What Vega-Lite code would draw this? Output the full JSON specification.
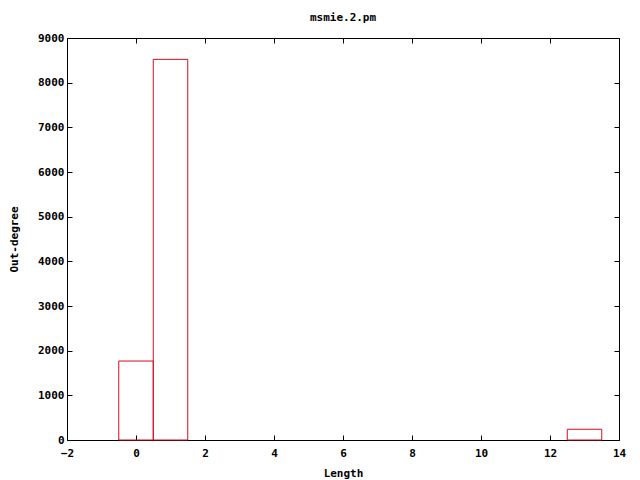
{
  "$schema": "https://vega.github.io/schema/vega-lite/v6.json",
  "width": 552,
  "height": 402,
  "autosize": {"type": "none"},
  "padding": {"left": 67, "top": 38, "right": 21, "bottom": 40},
  "background": "white",
  "title": {"text": "msmie.2.pm", "font": "DejaVu Sans Mono", "fontSize": 11, "fontWeight": "bold", "color": "black", "offset": 9, "anchor": "middle"},
  "config": {
    "view": {"stroke": "black", "strokeWidth": 1},
    "axis": {"grid": false, "domain": false, "tickColor": "black", "tickSize": -5, "labelFont": "DejaVu Sans Mono", "labelFontSize": 11, "labelFontWeight": "bold", "labelColor": "black", "titleFont": "DejaVu Sans Mono", "titleFontSize": 11, "titleFontWeight": "bold", "titleColor": "black"}
  },
  "data": {"values": [
    {"Length": 0, "lo": -0.5, "hi": 0.5, "count": 1768},
    {"Length": 1, "lo": 0.5, "hi": 1.5, "count": 8522},
    {"Length": 13, "lo": 12.5, "hi": 13.5, "count": 240}
  ]},
  "resolve": {"axis": {"x": "independent", "y": "independent"}},
  "layer": [
    {
      "mark": {"type": "rect", "fill": null, "fillOpacity": 0, "stroke": "#d01020", "strokeWidth": 1},
      "encoding": {
        "x": {"field": "lo", "type": "quantitative", "scale": {"domain": [-2, 14], "nice": false, "zero": false}, "axis": {"title": "Length", "values": [-2,0,2,4,6,8,10,12,14], "labelPadding": 12, "titlePadding": 9, "labelFlush": false}},
        "x2": {"field": "hi"},
        "y": {"field": "count", "type": "quantitative", "scale": {"domain": [0, 9000], "nice": false}, "axis": {"title": "Out-degree", "format": "d", "values": [0,1000,2000,3000,4000,5000,6000,7000,8000,9000], "labelPadding": 8, "titlePadding": 18}},
        "y2": {"datum": 0}
      }
    },
    {
      "mark": {"type": "point", "opacity": 0},
      "encoding": {
        "x": {"field": "Length", "type": "quantitative", "scale": {"domain": [-2, 14], "nice": false, "zero": false}, "axis": {"orient": "top", "title": null, "labels": false, "values": [-2,0,2,4,6,8,10,12,14]}},
        "y": {"field": "count", "type": "quantitative", "scale": {"domain": [0, 9000], "nice": false}, "axis": {"orient": "right", "title": null, "labels": false, "values": [0,1000,2000,3000,4000,5000,6000,7000,8000,9000]}}
      }
    }
  ]
}
